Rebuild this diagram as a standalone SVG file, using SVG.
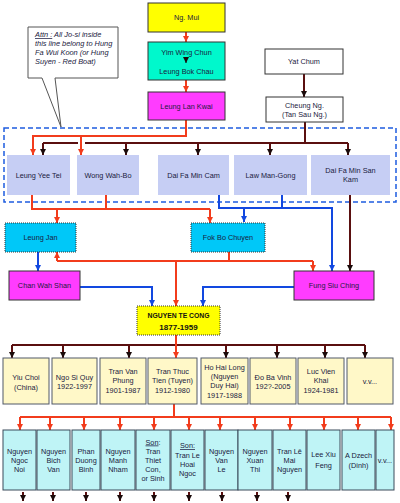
<svg xmlns="http://www.w3.org/2000/svg" width="400" height="503" viewBox="0 0 400 503">
<defs>
<marker id="ar" viewBox="0 0 10 10" refX="10" refY="5" markerWidth="6" markerHeight="6" markerUnits="userSpaceOnUse" orient="auto"><path d="M0,0 L10,5 L0,10 z" fill="#f23c1c"/></marker>
<marker id="ab" viewBox="0 0 10 10" refX="10" refY="5" markerWidth="6" markerHeight="6" markerUnits="userSpaceOnUse" orient="auto"><path d="M0,0 L10,5 L0,10 z" fill="#1248e0"/></marker>
<marker id="ak" viewBox="0 0 10 10" refX="10" refY="5" markerWidth="6" markerHeight="6" markerUnits="userSpaceOnUse" orient="auto"><path d="M0,0 L10,5 L0,10 z" fill="#1a0a0a"/></marker>
</defs>
<style>
text{font-family:"Liberation Sans",Arial,sans-serif;font-size:7.3px;fill:#1a1a40;text-anchor:middle}
.r{stroke:#f23c1c;stroke-width:2;fill:none}
.b{stroke:#1248e0;stroke-width:2;fill:none}
.k{stroke:#5a0f0f;stroke-width:2;fill:none}
.ra{marker-end:url(#ar)}
.ba{marker-end:url(#ab)}
.ka{marker-end:url(#ak)}
.lav{fill:#c6cef4}
.y2{fill:#fff8c8;stroke:#505868;stroke-width:1}
.c3{fill:#bff4f6;stroke:#3a4a5a;stroke-width:1}
.dk{stroke:#333;stroke-width:1}
.cy{fill:#00c8f8;stroke:#333;stroke-width:1;stroke-dasharray:1,1}
.mg{fill:#ff3cff;stroke:#333;stroke-width:1}
.it{font-style:italic;text-anchor:start;font-size:7.4px}
.bd{font-weight:bold;fill:#111}
</style>
<rect x="0" y="0" width="400" height="503" fill="#ffffff"/>

<g id="callout">
<path d="M28,27 H118 V78 H55 L61,127 L42,78 H28 Z" fill="#ffffff" stroke="#555" stroke-width="1"/>
<text class="it" x="35" y="37"><tspan text-decoration="underline">Attn :</tspan> All Jo-si inside</text>
<text class="it" x="35" y="46">this line belong to Hung</text>
<text class="it" x="35" y="55">Fa Wui Koon (or Hung</text>
<text class="it" x="35" y="64">Suyen - Red Boat)</text>
</g>

<rect id="hung-fa-wui-koon" x="4" y="128" width="392" height="74" fill="none" stroke="#1e5ce0" stroke-width="1.5" stroke-dasharray="5,3"/>

<g id="connectors">
<line class="r ra" x1="186" y1="32" x2="186" y2="42"/>
<line class="r ra" x1="186" y1="80" x2="186" y2="92"/>
<line class="k ka" x1="304" y1="74" x2="304" y2="97"/>
<!-- black line from Cheung Ng -->
<polyline class="k" points="305,122 305,143"/>
<line class="k" x1="43" y1="143" x2="78" y2="143"/>
<line class="k" x1="85" y1="143" x2="348" y2="143"/>
<line class="k ka" x1="43" y1="143" x2="43" y2="155"/>
<line class="k ka" x1="126" y1="143" x2="126" y2="155"/>
<line class="k ka" x1="198" y1="143" x2="198" y2="155"/>
<line class="k ka" x1="270" y1="143" x2="270" y2="155"/>
<line class="k ka" x1="348" y1="143" x2="348" y2="155"/>
<!-- red from Leung Lan Kwai -->
<polyline class="r ra" points="186,120 186,136 33,136 33,155"/>
<line class="r ra" x1="81" y1="136" x2="81" y2="155"/>
<!-- red from Leung Yee Tei / Wong Wah-Bo -->
<polyline class="r" points="32,195 32,209 210,209"/>
<line class="r" x1="106" y1="195" x2="106" y2="209"/>
<line class="r ra" x1="57" y1="209" x2="57" y2="223"/>
<line class="r ra" x1="210" y1="209" x2="210" y2="223"/>
<!-- blue from Dai Fa Min Cam / Law Man-Gong -->
<polyline class="b ba" points="219,195 219,208 332,208 332,271"/>
<line class="b" x1="282" y1="195" x2="282" y2="208"/>
<line class="b ba" x1="244" y1="208" x2="244" y2="222"/>
<!-- black from Dai Fa Min San Kam -->
<line class="k ka" x1="350" y1="195" x2="350" y2="271"/>
<!-- red from Fok Bo Chuyen -->
<line class="r" x1="229" y1="252" x2="229" y2="261"/>
<line class="r" x1="57" y1="261" x2="313" y2="261"/>
<line class="r ra" x1="57" y1="261" x2="57" y2="252"/>
<line class="r ra" x1="313" y1="261" x2="313" y2="271"/>
<line class="r ra" x1="176" y1="261" x2="176" y2="306"/>
<!-- blue Leung Jan -> Chan Wah Shan -->
<line class="b ba" x1="38" y1="252" x2="38" y2="271"/>
<polyline class="b ba" points="80,287 152,287 152,306"/>
<polyline class="b ba" points="294,287 203,287 203,306"/>
<!-- from Nguyen Te Cong -->
<line class="k" x1="12" y1="345" x2="365" y2="345"/>
<line class="k ka" x1="12" y1="345" x2="12" y2="358"/>
<line class="k ka" x1="63" y1="345" x2="63" y2="358"/>
<line class="k ka" x1="129" y1="345" x2="129" y2="358"/>
<line class="k ka" x1="226" y1="345" x2="226" y2="358"/>
<line class="k ka" x1="277" y1="345" x2="277" y2="358"/>
<line class="k ka" x1="325" y1="345" x2="325" y2="358"/>
<line class="k ka" x1="365" y1="345" x2="365" y2="358"/>
<line class="r ra" x1="176" y1="335" x2="176" y2="358"/>
<!-- from Tran Thuc Tien -->
<line class="r" x1="174" y1="404" x2="174" y2="417"/>
<line class="r" x1="20" y1="417" x2="391" y2="417"/>
<line class="r ra" x1="20" y1="417" x2="20" y2="430"/>
<line class="r ra" x1="50" y1="417" x2="50" y2="430"/>
<line class="r ra" x1="84" y1="417" x2="84" y2="430"/>
<line class="r ra" x1="120" y1="417" x2="120" y2="430"/>
<line class="r ra" x1="154" y1="417" x2="154" y2="430"/>
<line class="r ra" x1="189" y1="417" x2="189" y2="430"/>
<line class="r ra" x1="220" y1="417" x2="220" y2="430"/>
<line class="r ra" x1="255" y1="417" x2="255" y2="430"/>
<line class="r ra" x1="290" y1="417" x2="290" y2="430"/>
<line class="r ra" x1="324" y1="417" x2="324" y2="430"/>
<line class="r ra" x1="358" y1="417" x2="358" y2="430"/>
<line class="r ra" x1="391" y1="417" x2="391" y2="430"/>
<!-- bottom -->
<line class="k ka" x1="23" y1="492" x2="23" y2="501"/>
<line class="k ka" x1="53" y1="492" x2="53" y2="501"/>
<line class="k ka" x1="86" y1="492" x2="86" y2="501"/>
<line class="k ka" x1="120" y1="492" x2="120" y2="501"/>
<line class="k ka" x1="154" y1="492" x2="154" y2="501"/>
<line class="k ka" x1="189" y1="492" x2="189" y2="501"/>
<line class="k ka" x1="222" y1="492" x2="222" y2="501"/>
<line class="k ka" x1="257" y1="492" x2="257" y2="501"/>
<line class="k ka" x1="288" y1="492" x2="288" y2="501"/>
</g>

<g id="ng-mui"><rect x="148" y="3" width="77" height="29" fill="#ffff00" class="dk"/><text x="186.5" y="20">Ng. Mui</text></g>
<g id="yim-wing-chun"><rect x="148" y="42" width="77" height="38" fill="#00f8cc" class="dk"/><text x="186.5" y="54.5">Yim Wing Chun</text><line x1="186" y1="57" x2="186" y2="63" stroke="#111" stroke-width="1" marker-end="url(#ak)"/><text x="186.5" y="73.5">Leung Bok Chau</text></g>
<g id="leung-lan-kwai"><rect x="148" y="92" width="77" height="28" class="mg"/><text x="186.5" y="109">Leung Lan Kwai</text></g>
<g id="yat-chum"><rect x="265" y="49" width="78" height="25" fill="#fff" class="dk"/><text x="304" y="64">Yat Chum</text></g>
<g id="cheung-ng"><rect x="266" y="97" width="77" height="25" fill="#fff" class="dk"/><text x="304.5" y="107.5">Cheung Ng.</text><text x="304.5" y="117">(Tan Sau Ng.)</text></g>

<g id="leung-yee-tei"><rect x="7" y="155" width="63" height="40" class="lav"/><text x="38.5" y="178">Leung Yee Tei</text></g>
<g id="wong-wah-bo"><rect x="77" y="155" width="62" height="40" class="lav"/><text x="108" y="178">Wong Wah-Bo</text></g>
<g id="dai-fa-min-cam"><rect x="158" y="155" width="71" height="40" class="lav"/><text x="193.5" y="178">Dai Fa Min Cam</text></g>
<g id="law-man-gong"><rect x="234" y="155" width="73" height="40" class="lav"/><text x="270.5" y="178">Law Man-Gong</text></g>
<g id="dai-fa-min-san-kam"><rect x="311" y="155" width="79" height="40" class="lav"/><text x="350.5" y="173">Dai Fa Min San</text><text x="350.5" y="182">Kam</text></g>

<g id="leung-jan"><rect x="5" y="223" width="71" height="29" class="cy"/><text x="40.5" y="240">Leung Jan</text></g>
<g id="fok-bo-chuyen"><rect x="191" y="223" width="74" height="29" class="cy"/><text x="228" y="240">Fok Bo Chuyen</text></g>
<g id="chan-wah-shan"><rect x="9" y="271" width="71" height="29" class="mg"/><text x="44.5" y="288">Chan Wah Shan</text></g>
<g id="fung-siu-ching"><rect x="294" y="271" width="80" height="29" class="mg"/><text x="334" y="288">Fung Siu Ching</text></g>
<g id="nguyen-te-cong"><rect x="137" y="306" width="83" height="29" fill="#ffff00" stroke="#333" stroke-width="1" stroke-dasharray="1,1"/><text class="bd" x="178.5" y="318" style="font-size:6.8px">NGUYEN TE CONG</text><text class="bd" x="178.5" y="329.5" style="font-size:8px">1877-1959</text></g>

<g id="yiu-choi"><rect x="3" y="358" width="46" height="46" class="y2"/><text x="26" y="380">Yiu Choi</text><text x="26" y="389.5">(China)</text></g>
<g id="ngo-si-quy"><rect x="52" y="358" width="45" height="46" class="y2"/><text x="74.5" y="379.5">Ngo Si Quy</text><text x="74.5" y="389">1922-1997</text></g>
<g id="tran-van-phung"><rect x="100" y="358" width="46" height="46" class="y2"/><text x="123" y="373.5">Tran Van</text><text x="123" y="383">Phung</text><text x="123" y="392.5">1901-1987</text></g>
<g id="tran-thuc-tien"><rect x="148" y="358" width="49" height="46" class="y2"/><text x="172.5" y="373.5">Tran Thuc</text><text x="172.5" y="383">Tien (Tuyen)</text><text x="172.5" y="392.5">1912-1980</text></g>
<g id="ho-hai-long"><rect x="201" y="358" width="47" height="46" class="y2"/><text x="224.5" y="370">Ho Hai Long</text><text x="224.5" y="379">(Nguyen</text><text x="224.5" y="388">Duy Hai)</text><text x="224.5" y="397.5">1917-1988</text></g>
<g id="do-ba-vinh"><rect x="250" y="358" width="46" height="46" class="y2"/><text x="273" y="379.5">Đo Ba Vinh</text><text x="273" y="389">192?-2005</text></g>
<g id="luc-vien-khai"><rect x="298" y="358" width="46" height="46" class="y2"/><text x="321" y="373.5">Luc Vien</text><text x="321" y="383">Khai</text><text x="321" y="392.5">1924-1981</text></g>
<g id="vv-1"><rect x="347" y="358" width="46" height="46" class="y2"/><text x="370" y="383.5">v.v...</text></g>

<g id="nguyen-ngoc-noi"><rect x="3" y="430" width="33" height="60" class="c3"/><text x="19.5" y="453.5">Nguyen</text><text x="19.5" y="462.5">Ngoc</text><text x="19.5" y="471.5">Noi</text></g>
<g id="nguyen-bich-van"><rect x="37" y="430" width="33" height="60" class="c3"/><text x="53.5" y="453.5">Nguyen</text><text x="53.5" y="462.5">Bich</text><text x="53.5" y="471.5">Van</text></g>
<g id="phan-duong-binh"><rect x="72" y="430" width="28" height="60" class="c3"/><text x="86" y="453.5">Phan</text><text x="86" y="462.5">Duong</text><text x="86" y="471.5">Binh</text></g>
<g id="nguyen-manh-nham"><rect x="101" y="430" width="34" height="60" class="c3"/><text x="118" y="453.5">Nguyen</text><text x="118" y="462.5">Manh</text><text x="118" y="471.5">Nham</text></g>
<g id="tran-thiet-con"><rect x="136" y="430" width="34" height="60" class="c3"/><text x="153" y="444.5"><tspan text-decoration="underline">Son</tspan>:</text><text x="153" y="453.5">Tran</text><text x="153" y="462.5">Thiet</text><text x="153" y="471.5">Con,</text><text x="153" y="481">or Sinh</text></g>
<g id="tran-le-hoai-ngoc"><rect x="171" y="430" width="33" height="60" class="c3"/><text x="187.5" y="448" text-decoration="underline">Son:</text><text x="187.5" y="457.5">Tran Le</text><text x="187.5" y="467">Hoai</text><text x="187.5" y="476">Ngoc</text></g>
<g id="nguyen-van-le"><rect x="205" y="430" width="33" height="60" class="c3"/><text x="221.5" y="453.5">Nguyen</text><text x="221.5" y="462.5">Van</text><text x="221.5" y="471.5">Le</text></g>
<g id="nguyen-xuan-thi"><rect x="238" y="430" width="34" height="60" class="c3"/><text x="255" y="453.5">Nguyen</text><text x="255" y="462.5">Xuan</text><text x="255" y="471.5">Thi</text></g>
<g id="tran-le-mai-nguyen"><rect x="273" y="430" width="33" height="60" class="c3"/><text x="289.5" y="453.5">Tran Lê</text><text x="289.5" y="462.5">Mai</text><text x="289.5" y="471.5">Nguyen</text></g>
<g id="lee-xiu-feng"><rect x="307" y="430" width="33" height="60" class="c3"/><text x="323.5" y="456.5">Lee Xiu</text><text x="323.5" y="468">Feng</text></g>
<g id="a-dzech"><rect x="342" y="430" width="33" height="60" class="c3"/><text x="358.5" y="458">A Dzech</text><text x="358.5" y="467.5">(Dinh)</text></g>
<g id="vv-2"><rect x="376" y="430" width="18" height="60" class="c3"/><text x="385" y="463">v.v...</text></g>
</svg>
